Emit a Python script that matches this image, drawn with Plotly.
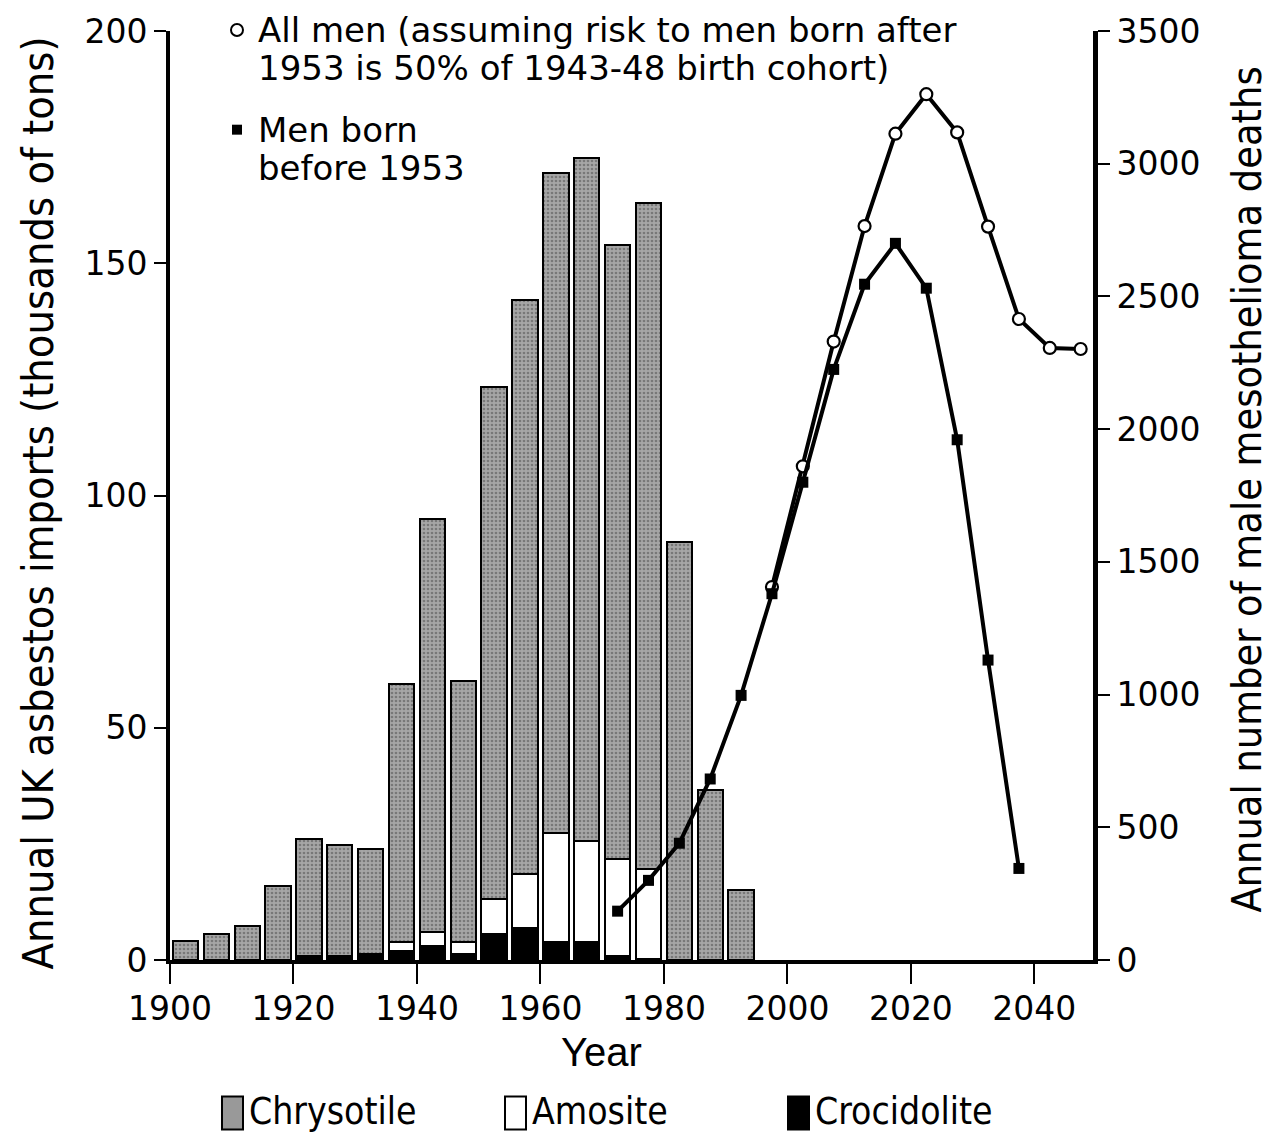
import plotly.graph_objects as go

# Five-year import periods (bar centres) and tonnages, thousands of tons
bar_years = [1902.5, 1907.5, 1912.5, 1917.5, 1922.5, 1927.5, 1932.5, 1937.5, 1942.5, 1947.5,
             1952.5, 1957.5, 1962.5, 1967.5, 1972.5, 1977.5, 1982.5, 1987.5, 1992.5]
total_imports = [4, 5.5, 7.3, 16, 26, 24.8, 23.8, 59.5, 95, 60,
                 123.3, 142, 169.5, 172.7, 154, 163, 90, 36.7, 15]
crocidolite = [0, 0, 0, 0, 0.8, 0.8, 1.2, 2, 3, 1.2,
               5.5, 6.8, 3.8, 3.8, 0.8, 0.3, 0, 0, 0]
amosite = [0, 0, 0, 0, 0, 0, 0, 1.8, 3, 2.6,
           7.7, 11.7, 23.6, 21.8, 20.9, 19.2, 0, 0, 0]
chrysotile = [round(t - a - c, 2) for t, a, c in zip(total_imports, amosite, crocidolite)]

# Projected annual male mesothelioma deaths
all_men_years = [1997.5, 2002.5, 2007.5, 2012.5, 2017.5, 2022.5,
                 2027.5, 2032.5, 2037.5, 2042.5, 2047.5]
all_men_deaths = [1405, 1860, 2330, 2765, 3113, 3262,
                  3118, 2763, 2415, 2306, 2302]
pre1953_years = [1972.5, 1977.5, 1982.5, 1987.5, 1992.5, 1997.5, 2002.5,
                 2007.5, 2012.5, 2017.5, 2022.5, 2027.5, 2032.5, 2037.5]
pre1953_deaths = [184, 300, 440, 682, 997, 1380, 1800,
                  2225, 2546, 2700, 2531, 1960, 1130, 345]

x_ticks = [1900, 1920, 1940, 1960, 1980, 2000, 2020, 2040]
left_ticks = [0, 50, 100, 150, 200]
right_ticks = [0, 500, 1000, 1500, 2000, 2500, 3000, 3500]

TICK_FONT = dict(family="DejaVu Sans", size=33, color="black")
NARROW = "DejaVu Sans Condensed"
W, H = 1275, 1135
ML, MR, MT, MB = 170, 182, 28, 175
PW, PH = W - ML - MR, H - MT - MB


def px(x):
    return (x - ML) / PW


def py(y):
    return (H - MB - y) / PH


bar_line = dict(color="black", width=2.5)
bar_width = 4.1

fig = go.Figure()
fig.add_trace(go.Bar(x=bar_years, y=crocidolite, name="Crocidolite", width=bar_width,
                     marker=dict(color="black", line=bar_line)))
fig.add_trace(go.Bar(x=bar_years, y=amosite, name="Amosite", width=bar_width,
                     marker=dict(color="white", line=bar_line)))
fig.add_trace(go.Bar(x=bar_years, y=chrysotile, name="Chrysotile", width=bar_width,
                     marker=dict(color="#999999", line=bar_line,
                                 pattern=dict(shape=".", size=4, solidity=0.35,
                                              fgcolor="#4a4a4a", bgcolor="#a6a6a6"))))

fig.add_trace(go.Scatter(x=all_men_years, y=all_men_deaths, yaxis="y2", mode="lines+markers",
                         name="All men", line=dict(color="black", width=4),
                         marker=dict(symbol="circle", size=12, color="white",
                                     line=dict(color="black", width=2.2))))
fig.add_trace(go.Scatter(x=pre1953_years, y=pre1953_deaths, yaxis="y2", mode="lines+markers",
                         name="Men born before 1953", line=dict(color="black", width=4),
                         marker=dict(symbol="square", size=11, color="black")))

# Legend keys for the two death projections
fig.add_shape(type="circle", xref="paper", yref="paper",
              x0=px(231), x1=px(243), y0=py(33), y1=py(21),
              line=dict(color="black", width=2), fillcolor="white")
fig.add_shape(type="rect", xref="paper", yref="paper",
              x0=px(232), x1=px(242), y0=py(132), y1=py(122),
              line=dict(color="black", width=0), fillcolor="black")
top_lines = [
    ("All men (assuming risk to men born after", 27),
    ("1953 is 50% of 1943-48 birth cohort)", 65),
    ("Men born", 127),
    ("before 1953", 165),
]
for text, yc in top_lines:
    fig.add_annotation(text=text, xref="paper", yref="paper", x=px(256), y=py(yc),
                       xanchor="left", yanchor="middle", showarrow=False,
                       font=dict(family="DejaVu Sans", size=34, color="black"))

# Legend keys for the fibre types
fibre_keys = [("Chrysotile", 222, "#999999"), ("Amosite", 505, "white"), ("Crocidolite", 788, "black")]
for name, x0, fill in fibre_keys:
    fig.add_shape(type="rect", xref="paper", yref="paper",
                  x0=px(x0), x1=px(x0 + 21), y0=py(1130), y1=py(1097),
                  line=dict(color="black", width=2), fillcolor=fill)
    fig.add_annotation(text=name, xref="paper", yref="paper", x=px(x0 + 25), y=py(1112),
                       xanchor="left", yanchor="middle", showarrow=False,
                       font=dict(family=NARROW, size=37, color="black"))

# Axis titles
fig.add_annotation(text="Year", xref="paper", yref="paper", x=px(601), y=py(1052),
                   xanchor="center", yanchor="middle", showarrow=False,
                   font=dict(family="Liberation Sans", size=40, color="black"))
fig.add_annotation(text="Annual UK asbestos imports (thousands of tons)",
                   xref="paper", yref="paper", x=px(38), y=py(502), textangle=-90,
                   xanchor="center", yanchor="middle", showarrow=False,
                   font=dict(family=NARROW, size=43, color="black"))
fig.add_annotation(text="Annual number of male mesothelioma deaths",
                   xref="paper", yref="paper", x=px(1247), y=py(488), textangle=-90,
                   xanchor="center", yanchor="middle", showarrow=False,
                   font=dict(family=NARROW, size=41, color="black"))

fig.update_layout(
    width=W, height=H,
    margin=dict(l=ML, r=MR, t=MT, b=MB),
    paper_bgcolor="white", plot_bgcolor="white",
    barmode="stack", bargap=0,
    showlegend=False,
    xaxis=dict(range=[1900, 2049.5], tickvals=x_ticks, ticks="outside", ticklen=20,
               tickwidth=2, tickcolor="black", showline=True, linewidth=4, linecolor="black",
               showgrid=False, zeroline=False, tickfont=TICK_FONT, ticklabelstandoff=-4),
    yaxis=dict(range=[0, 200], tickvals=left_ticks, ticks="outside", ticklen=12,
               tickwidth=2, tickcolor="black", showline=True, linewidth=4, linecolor="black",
               showgrid=False, zeroline=False, tickfont=TICK_FONT),
    yaxis2=dict(range=[0, 3500], tickvals=right_ticks, overlaying="y", side="right",
                ticks="outside", ticklen=12, tickwidth=2, tickcolor="black",
                showline=True, linewidth=5, linecolor="black", showgrid=False,
                zeroline=False, tickfont=TICK_FONT),
)

fig.write_html("out.html")
